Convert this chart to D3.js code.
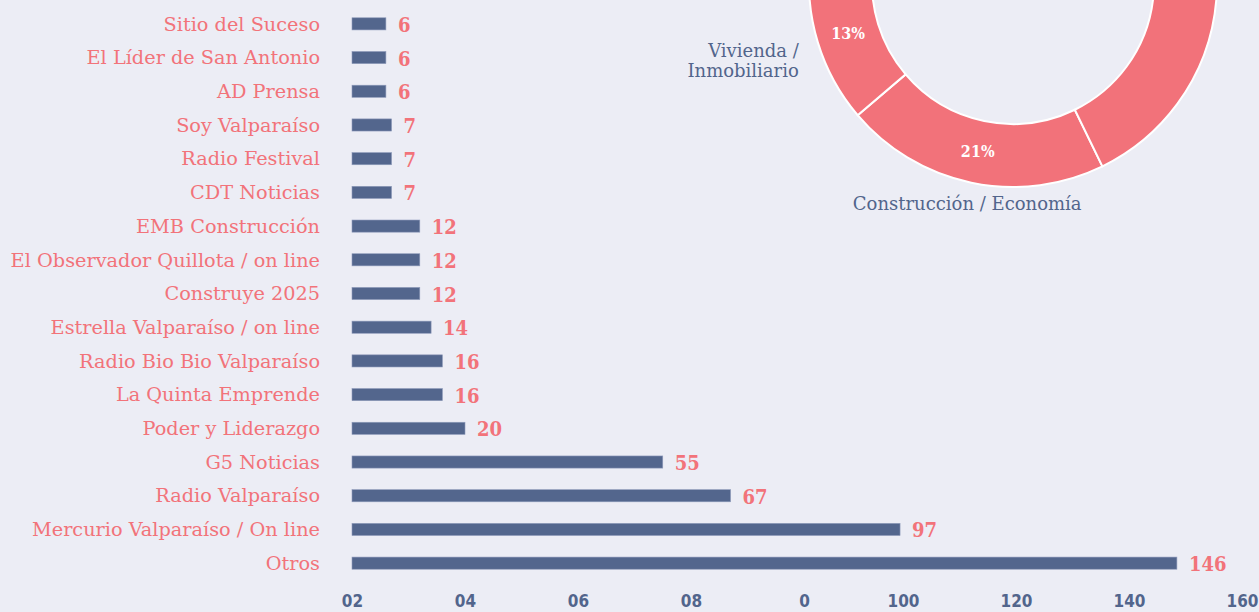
<!DOCTYPE html>
<html>
<head>
<meta charset="utf-8">
<script src="https://cdn.jsdelivr.net/npm/d3@7"></script>
<style>
  html, body { margin: 0; padding: 0; background: #ecedf5; overflow: hidden; }
  svg { display: block; }
  .cat { font-family: "DejaVu Serif", serif; font-size: 19.3px; fill: #f2737a; }
  .val { font-family: "DejaVu Serif Condensed", "DejaVu Serif", serif; font-stretch: condensed; font-weight: bold; font-size: 20px; fill: #f2737a; }
  .x-axis text { font-family: "DejaVu Sans Condensed", "DejaVu Sans", sans-serif; font-stretch: condensed; font-weight: bold; font-size: 17px; fill: #52658c; }
  .pct { font-family: "DejaVu Serif Condensed", "DejaVu Serif", serif; font-stretch: condensed; font-weight: bold; font-size: 16px; fill: #fff; }
  .dlabel { font-family: "DejaVu Serif", serif; font-size: 18px; fill: #52658c; }
</style>
</head>
<body>
<div id="chart"></div>
<script>
// --------------------------------------
//  Data
// --------------------------------------

const medios = [
  "Sitio del Suceso", "El Líder de San Antonio", "AD Prensa", "Soy Valparaíso",
  "Radio Festival", "CDT Noticias", "EMB Construcción", "El Observador Quillota / on line",
  "Construye 2025", "Estrella Valparaíso / on line", "Radio Bio Bio Valparaíso",
  "La Quinta Emprende", "Poder y Liderazgo", "G5 Noticias", "Radio Valparaíso",
  "Mercurio Valparaíso / On line", "Otros"
];
const menciones = [6, 6, 6, 7, 7, 7, 12, 12, 12, 14, 16, 16, 20, 55, 67, 97, 146];

const xTicks = [0, 20, 40, 60, 80, 100, 120, 140, 160];
const xTickLabels = ["02", "04", "06", "08", "0", "100", "120", "140", "160"];

// donut (only the lower part is visible, the rest is one remainder slice)
const temas = ["Construcción / Economía", "Vivienda / Inmobiliario", "Resto"];
const temasLines = [["Construcción / Economía"], ["Vivienda /", "Inmobiliario"], []];
const temasPct = [21, 13, 66];

// --------------------------------------
//  Canvas
// --------------------------------------

const width = 1259;
const height = 612;
const margin = {top: 7, right: 3, bottom: 32, left: 352};

const svg = d3.select("#chart")
  .append("svg")
    .attr("width", width)
    .attr("height", height);

svg.append("rect")
  .attr("width", width)
  .attr("height", height)
  .attr("fill", "#ecedf5");

// --------------------------------------
//  Scales
// --------------------------------------

const x = d3.scaleLinear()
  .domain([0, 160])
  .range([margin.left, margin.left + 160 * 5.65]);

const y = d3.scaleBand()
  .domain(medios)
  .range([margin.top, height - margin.bottom])
  .paddingInner(0.64)
  .paddingOuter(0.32);

// --------------------------------------
//  Bars
// --------------------------------------

const data = medios.map((m, i) => ({medio: m, n: menciones[i]}));

svg.append("g")
  .selectAll("rect")
  .data(data)
  .join("rect")
    .attr("x", x(0))
    .attr("y", d => y(d.medio))
    .attr("width", d => x(d.n) - x(0))
    .attr("height", y.bandwidth())
    .attr("fill", "#53668d")
    .attr("stroke", "#8e9aba")
    .attr("stroke-width", 0.6);

// category labels
svg.append("g")
  .selectAll("text")
  .data(data)
  .join("text")
    .attr("class", "cat")
    .attr("x", x(0) - 32)
    .attr("y", d => y(d.medio) + y.bandwidth() / 2)
    .attr("dy", "0.35em")
    .attr("text-anchor", "end")
    .text(d => d.medio);

// value labels
svg.append("g")
  .selectAll("text")
  .data(data)
  .join("text")
    .attr("class", "val")
    .attr("x", d => x(d.n) + 12)
    .attr("y", d => y(d.medio) + y.bandwidth() / 2)
    .attr("dy", "0.4em")
    .text(d => d.n);

// --------------------------------------
//  Axis
// --------------------------------------

const xAxis = svg.append("g")
  .attr("class", "x-axis")
  .attr("transform", `translate(0, ${height - 17})`)
  .call(d3.axisBottom(x)
    .tickValues(xTicks)
    .tickFormat((d, i) => xTickLabels[i])
    .tickSize(0)
    .tickPadding(0));

xAxis.select(".domain").remove();
xAxis.selectAll("text")
  .attr("dy", "0.72em")
  .attr("fill", null)
  .attr("text-anchor", d => d >= 100 ? "end" : "middle")
  .attr("dx", d => d >= 100 ? 2 : 0);

// --------------------------------------
//  Donut
// --------------------------------------

const cx = 1013, cy = -17;
const rOuter = 204, rInner = 141;

const pie = d3.pie()
  .sort(null)
  .value(d => d.pct)
  .startAngle(154 * Math.PI / 180)
  .endAngle((154 + 360) * Math.PI / 180);

const arc = d3.arc().innerRadius(rInner).outerRadius(rOuter);
const labelArc = d3.arc().innerRadius(224).outerRadius(224);

const temasData = temas.map((t, i) => ({tema: t, lines: temasLines[i], pct: temasPct[i]}));
const arcs = pie(temasData);
// only the slices whose labels fall inside the picture get text
const shown = arcs.filter(d => d.data.lines.length > 0);

const donut = svg.append("g")
  .attr("transform", `translate(${cx}, ${cy})`);

donut.selectAll("path")
  .data(arcs)
  .join("path")
    .attr("d", arc)
    .attr("fill", "#f2727a")
    .attr("stroke", "#ffffff")
    .attr("stroke-width", 2);

donut.selectAll(".pct")
  .data(shown)
  .join("text")
    .attr("class", "pct")
    .attr("transform", d => `translate(${arc.centroid(d)})`)
    .attr("text-anchor", "middle")
    .attr("dy", "0.35em")
    .text(d => d.data.pct + "%");

const dl = donut.selectAll(".dlabel")
  .data(shown)
  .join("text")
    .attr("class", "dlabel")
    .attr("transform", d => `translate(${labelArc.centroid(d)})`)
    .attr("text-anchor", d => {
      const a = (d.startAngle + d.endAngle) / 2;
      const s = Math.sin(a);
      return Math.abs(s) < 0.4 ? "middle" : (s < 0 ? "end" : "start");
    });

dl.selectAll("tspan")
  .data(d => d.data.lines)
  .join("tspan")
    .attr("x", 0)
    .attr("dy", (d, i) => i === 0 ? "0.45em" : "1.15em")
    .text(d => d);
</script>
</body>
</html>
